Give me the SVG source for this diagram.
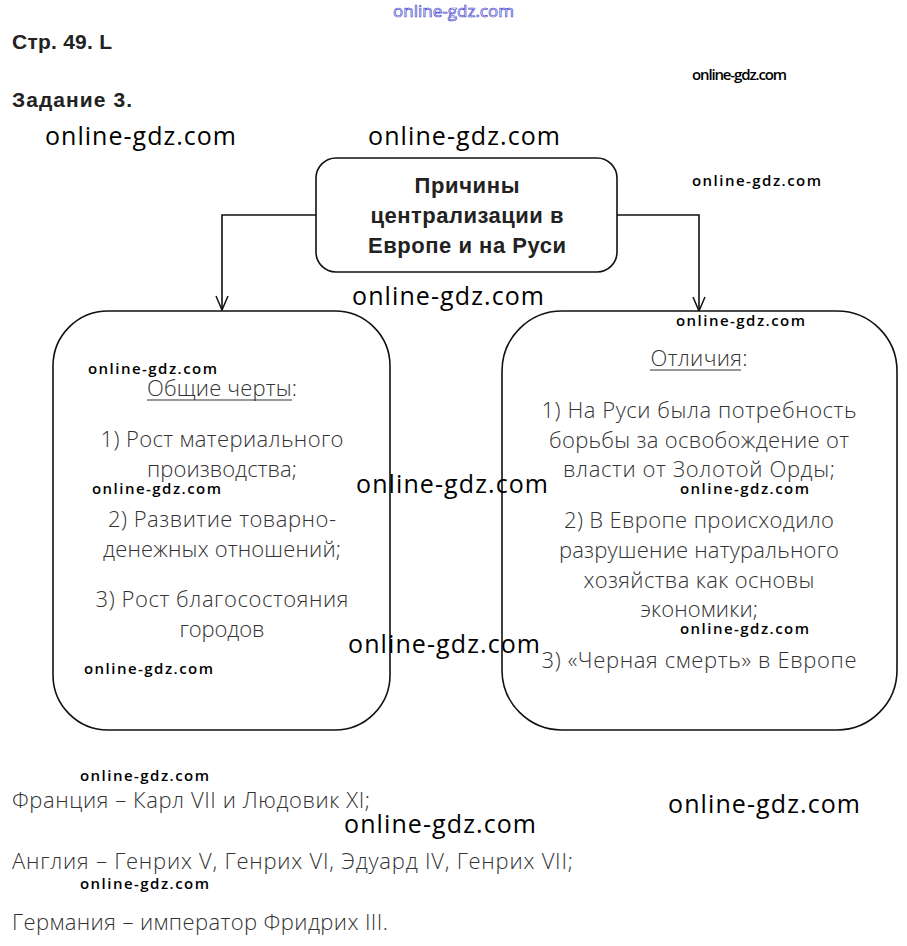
<svg xmlns="http://www.w3.org/2000/svg" width="907" height="946" viewBox="0 0 907 946">
<defs>
<marker id="arr" markerWidth="16" markerHeight="14" refX="15" refY="7" orient="auto" markerUnits="userSpaceOnUse" viewBox="0 0 16 14">
<path d="M1,1 L15,7 L1,13" fill="none" stroke="#111" stroke-width="1.5"/>
</marker>
</defs>
<style>
.box{fill:#fff;stroke:#111;stroke-width:1.6}
.conn{fill:none;stroke:#111;stroke-width:1.6}
.hdr{font-family:"Liberation Sans",Arial,sans-serif;font-weight:bold;font-size:21px;fill:#222}
.ttl{font-family:"Liberation Sans",Arial,sans-serif;font-weight:bold;font-size:22px;fill:#222;text-anchor:middle}
.lt{font-family:"Open Sans","Liberation Sans",sans-serif;font-weight:300;font-size:22px;fill:#333;text-anchor:middle}
.bt{font-family:"Open Sans","Liberation Sans",sans-serif;font-weight:300;font-size:22px;fill:#333}
.wl{font-family:"Open Sans","Liberation Sans",sans-serif;font-size:25px;fill:#000}
.ws{font-family:"Open Sans","Liberation Sans",sans-serif;font-weight:600;font-size:15px;fill:#000}
.wb{font-family:"Open Sans","Liberation Sans",sans-serif;font-size:17px;fill:#fff;stroke:#4a4ad0;stroke-width:0.7}
</style>
<rect width="907" height="946" fill="#fff"/>

<g id="header">
<text class="hdr" x="12" y="49" textLength="100">Стр. 49. L</text>
<text class="hdr" x="12" y="107" textLength="120">Задание 3.</text>
</g>

<g id="connectors">
<polyline class="conn" points="316,215 222,215 222,310" marker-end="url(#arr)"/>
<polyline class="conn" points="617,215 699,215 699,311" marker-end="url(#arr)"/>
</g>

<g id="node-top">
<rect class="box" x="316" y="158" width="301" height="114" rx="20"/>
<text class="ttl" x="467" y="193" textLength="105">Причины</text>
<text class="ttl" x="467" y="223" textLength="193">централизации в</text>
<text class="ttl" x="467" y="253" textLength="198">Европе и на Руси</text>
</g>

<g id="node-left">
<rect class="box" x="53" y="311" width="337" height="419" rx="55"/>
<text class="lt" x="222" y="396" textLength="150">Общие черты:</text>
<line x1="147" y1="400" x2="292" y2="400" stroke="#333" stroke-width="1"/>
<text class="lt" x="222" y="447" textLength="243">1) Рост материального</text>
<text class="lt" x="222" y="477" textLength="150">производства;</text>
<text class="lt" x="222" y="527" textLength="228">2) Развитие товарно-</text>
<text class="lt" x="222" y="557" textLength="238">денежных отношений;</text>
<text class="lt" x="222" y="607" textLength="253">3) Рост благосостояния</text>
<text class="lt" x="222" y="637" textLength="85">городов</text>
</g>

<g id="node-right">
<rect class="box" x="502" y="311" width="395" height="419" rx="60"/>
<text class="lt" x="699" y="366" textLength="97">Отличия:</text>
<line x1="650" y1="370" x2="741" y2="370" stroke="#333" stroke-width="1"/>
<text class="lt" x="699" y="418" textLength="315">1) На Руси была потребность</text>
<text class="lt" x="699" y="448" textLength="300">борьбы за освобождение от</text>
<text class="lt" x="699" y="477" textLength="272">власти от Золотой Орды;</text>
<text class="lt" x="699" y="528" textLength="270">2) В Европе происходило</text>
<text class="lt" x="699" y="558" textLength="280">разрушение натурального</text>
<text class="lt" x="699" y="588" textLength="231">хозяйства как основы</text>
<text class="lt" x="699" y="617" textLength="118">экономики;</text>
<text class="lt" x="699" y="668" textLength="315">3) «Черная смерть» в Европе</text>
</g>

<g id="bottom-text">
<text class="bt" x="12" y="808" textLength="358">Франция – Карл VII и Людовик XI;</text>
<text class="bt" x="12" y="869" textLength="561">Англия – Генрих V, Генрих VI, Эдуард IV, Генрих VII;</text>
<text class="bt" x="12" y="930" textLength="376">Германия – император Фридрих III.</text>
</g>

<g id="watermarks">
<text class="wb" x="393" y="17" textLength="121">online-gdz.com</text>
<text class="wl" x="45" y="145" textLength="191">online-gdz.com</text>
<text class="wl" x="368" y="145" textLength="192">online-gdz.com</text>
<text class="wl" x="352" y="305" textLength="192">online-gdz.com</text>
<text class="wl" x="356" y="493" textLength="192">online-gdz.com</text>
<text class="wl" x="348" y="653" textLength="192">online-gdz.com</text>
<text class="wl" x="344" y="833" textLength="192">online-gdz.com</text>
<text class="wl" x="668" y="813" textLength="192">online-gdz.com</text>
<text class="ws" x="692" y="80" textLength="95">online-gdz.com</text>
<text class="ws" x="692" y="186" textLength="129">online-gdz.com</text>
<text class="ws" x="676" y="326" textLength="129">online-gdz.com</text>
<text class="ws" x="88" y="374" textLength="129">online-gdz.com</text>
<text class="ws" x="92" y="494" textLength="129">online-gdz.com</text>
<text class="ws" x="680" y="494" textLength="129">online-gdz.com</text>
<text class="ws" x="680" y="634" textLength="129">online-gdz.com</text>
<text class="ws" x="84" y="674" textLength="129">online-gdz.com</text>
<text class="ws" x="80" y="781" textLength="129">online-gdz.com</text>
<text class="ws" x="80" y="889" textLength="129">online-gdz.com</text>
</g>
</svg>
